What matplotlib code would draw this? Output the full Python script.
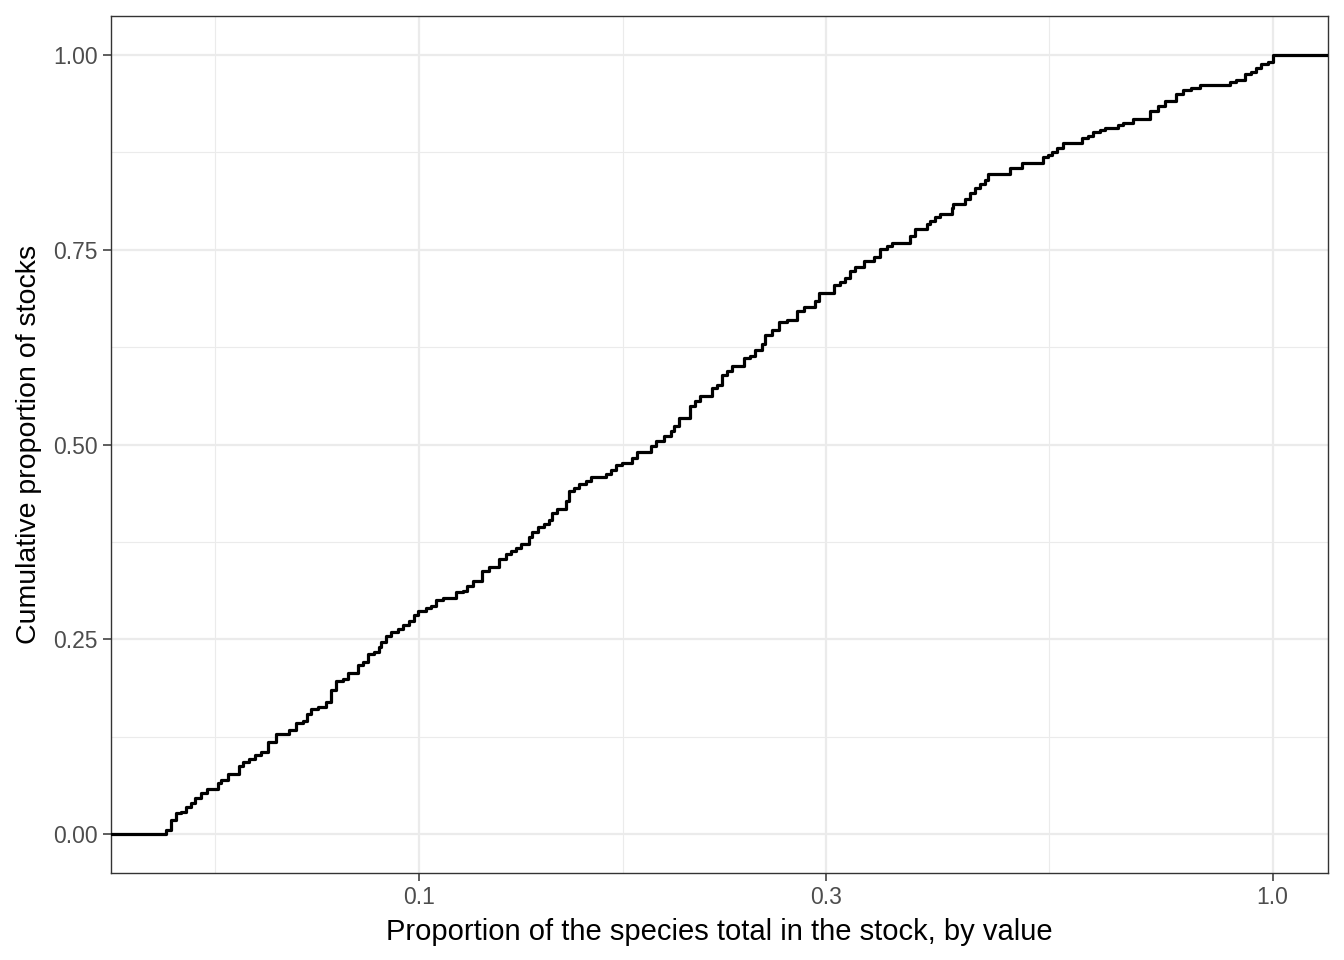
import numpy as np
import matplotlib
matplotlib.use("Agg")
from matplotlib import pyplot as plt
from matplotlib.ticker import FixedLocator, NullFormatter

# ECDF knots: share of the species total held by a stock,
# and the cumulative proportion of stocks reached at that share
stock_share = [
    0.0506, 0.0513, 0.0520, 0.0527, 0.0534, 0.0541, 0.0546, 0.0556, 0.0564, 0.0582, 0.0587,
    0.0597, 0.0616, 0.0622, 0.0633, 0.0642, 0.0653, 0.0665, 0.0680, 0.0705, 0.0718, 0.0731,
    0.0740, 0.0748, 0.0761, 0.0778, 0.0789, 0.0800, 0.0814,
    0.0825, 0.0848, 0.0859, 0.0871, 0.0887, 0.0899, 0.0903, 0.0915, 0.0927, 0.0944, 0.0957,
    0.0974, 0.0987, 0.0997, 0.1019, 0.1033, 0.1047, 0.1066, 0.1105, 0.1125, 0.1140, 0.1156,
    0.1187, 0.1208,
    0.1241, 0.1264, 0.1281, 0.1298, 0.1316, 0.1346, 0.1358, 0.1377, 0.1401, 0.1420, 0.1433,
    0.1453, 0.1486, 0.1499, 0.1519, 0.1540, 0.1568, 0.1589, 0.1655, 0.1677, 0.1700,
    0.1731, 0.1778, 0.1802, 0.1868, 0.1893, 0.1936, 0.1971, 0.1989, 0.2016, 0.2080, 0.2108,
    0.2137, 0.2205, 0.2235, 0.2266, 0.2296, 0.2327, 0.2401,
    0.2445, 0.2478, 0.2523, 0.2546, 0.2592, 0.2638, 0.2699, 0.2772, 0.2822, 0.2912, 0.2938,
    0.3060, 0.3115, 0.3158, 0.3200, 0.3244, 0.3317, 0.3408, 0.3470,
    0.3533, 0.3581, 0.3762, 0.3813, 0.3935, 0.3970, 0.4024, 0.4078, 0.4209, 0.4227, 0.4362,
    0.4421, 0.4481,
    0.4543, 0.4604, 0.4646, 0.4925, 0.5083, 0.5387, 0.5460, 0.5511, 0.5585, 0.5685,
    0.5973, 0.6080, 0.6163, 0.6275, 0.6360, 0.6592, 0.6681, 0.6864, 0.7179, 0.7342, 0.7475,
    0.7715, 0.7853, 0.8033,
    0.8215, 0.8906, 0.9069, 0.9274, 0.9443, 0.9570, 0.9700, 0.9874, 1.0000,
]
cum_prop = [
    0.0051, 0.0179, 0.0265, 0.0286, 0.0350, 0.0393, 0.0457, 0.0521, 0.0576, 0.0653, 0.0691,
    0.0777, 0.0871, 0.0926, 0.0969, 0.1012, 0.1054, 0.1182, 0.1289, 0.1332, 0.1430, 0.1447,
    0.1536, 0.1609, 0.1630, 0.1694, 0.1844, 0.1959, 0.1994,
    0.2070, 0.2173, 0.2206, 0.2314, 0.2343, 0.2398, 0.2462, 0.2548, 0.2599, 0.2634, 0.2685,
    0.2740, 0.2813, 0.2868, 0.2898, 0.2932, 0.3005, 0.3026, 0.3102, 0.3124, 0.3188, 0.3252,
    0.3380, 0.3423,
    0.3530, 0.3594, 0.3636, 0.3666, 0.3722, 0.3807, 0.3871, 0.3935, 0.3978, 0.4033, 0.4119,
    0.4178, 0.4277, 0.4405, 0.4447, 0.4490, 0.4533, 0.4588, 0.4626, 0.4673, 0.4734,
    0.4767, 0.4831, 0.4904, 0.4981, 0.5045, 0.5109, 0.5173, 0.5237, 0.5343, 0.5493, 0.5557,
    0.5621, 0.5727, 0.5758, 0.5886, 0.5941, 0.6014, 0.6111,
    0.6142, 0.6219, 0.6296, 0.6411, 0.6475, 0.6568, 0.6603, 0.6709, 0.6764, 0.6837, 0.6944,
    0.7042, 0.7085, 0.7136, 0.7221, 0.7273, 0.7349, 0.7401, 0.7512,
    0.7542, 0.7584, 0.7670, 0.7768, 0.7827, 0.7871, 0.7926, 0.7955, 0.8032, 0.8083, 0.8152,
    0.8224, 0.8288,
    0.8339, 0.8396, 0.8476, 0.8553, 0.8617, 0.8685, 0.8716, 0.8758, 0.8800, 0.8864,
    0.8928, 0.8959, 0.9014, 0.9036, 0.9065, 0.9100, 0.9129, 0.9184, 0.9283, 0.9343, 0.9407,
    0.9497, 0.9548, 0.9577,
    0.9612, 0.9654, 0.9684, 0.9760, 0.9782, 0.9837, 0.9881, 0.9910, 1.0000,
]

x_breaks = [0.1, 0.3, 1.0]
x_labels = ["0.1", "0.3", "1.0"]
y_breaks = [0.0, 0.25, 0.5, 0.75, 1.0]
y_labels = ["0.00", "0.25", "0.50", "0.75", "1.00"]

plt.rcParams['font.family'] = ['Liberation Sans', 'DejaVu Sans']

fig = plt.figure(figsize=(13.44, 9.6), dpi=100)
ax = fig.add_axes([111 / 1344, 1 - 873 / 960, (1328 - 111) / 1344, (873 - 16) / 960])

# ggplot-like 5% expansion on the log scale
lx = np.log10([min(stock_share), max(stock_share)])
pad = 0.05 * (lx[1] - lx[0])
xlo, xhi = 10 ** (lx[0] - pad), 10 ** (lx[1] + pad)

# ecdf runs from the left edge at 0 to the right edge at 1
xs = np.concatenate([[xlo], stock_share, [xhi]])
ys = np.concatenate([[0.0], cum_prop, [1.0]])
ax.step(xs, ys, where='post', color='black', linewidth=2.3, zorder=3)

ax.set_xscale('log')
ax.set_xlim(xlo, xhi)
ax.set_ylim(-0.05, 1.05)

# minor breaks midway between majors in log space
lb = np.log10(x_breaks)
x_minor = [10 ** (lb[0] - (lb[1] - lb[0]) / 2)] + [10 ** ((a + b) / 2) for a, b in zip(lb[:-1], lb[1:])]
y_minor = [0.125, 0.375, 0.625, 0.875]

ax.xaxis.set_major_locator(FixedLocator(x_breaks))
ax.set_xticklabels(x_labels)
ax.xaxis.set_minor_locator(FixedLocator(x_minor))
ax.xaxis.set_minor_formatter(NullFormatter())
ax.set_yticks(y_breaks)
ax.set_yticklabels(y_labels)
ax.yaxis.set_minor_locator(FixedLocator(y_minor))

ax.grid(True, which='major', color='#EBEBEB', linewidth=1.6, zorder=0)
ax.grid(True, which='minor', color='#EBEBEB', linewidth=0.8, zorder=0)
ax.set_axisbelow(True)

for s in ax.spines.values():
    s.set_color('#333333')
    s.set_linewidth(1.0)
ax.tick_params(which='major', length=5.5, width=1.1, color='#333333',
               labelcolor='#4D4D4D', labelsize=16.5, pad=4)
ax.tick_params(which='minor', length=0)

ax.set_xlabel('Proportion of the species total in the stock, by value', fontsize=21, labelpad=6)
ax.set_ylabel('Cumulative proportion of stocks', fontsize=20.5, labelpad=8)

fig.savefig('out.png', dpi=100)
